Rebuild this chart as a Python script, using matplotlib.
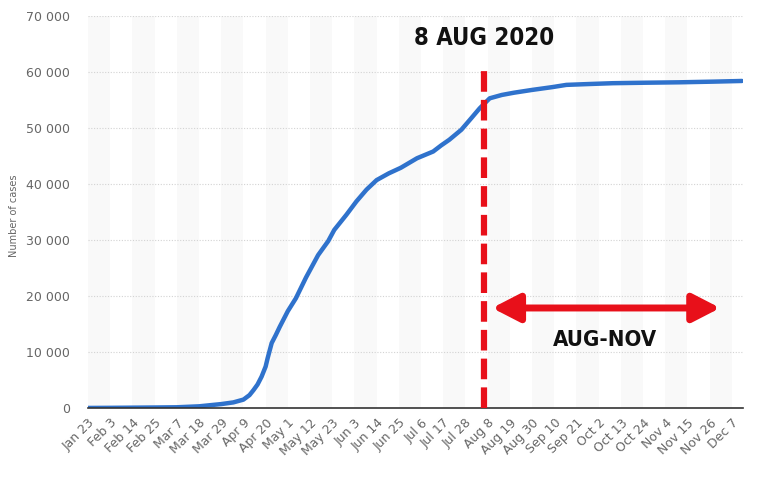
import matplotlib
matplotlib.use("Agg")
import matplotlib.pyplot as plt
from matplotlib import font_manager as fm

# ---- data ----
tick_labels = ["Jan 23", "Feb 3", "Feb 14", "Feb 25", "Mar 7", "Mar 18", "Mar 29",
               "Apr 9", "Apr 20", "May 1", "May 12", "May 23", "Jun 3", "Jun 14",
               "Jun 25", "Jul 6", "Jul 17", "Jul 28", "Aug 8", "Aug 19", "Aug 30",
               "Sep 10", "Sep 21", "Oct 2", "Oct 13", "Oct 24", "Nov 4", "Nov 15",
               "Nov 26", "Dec 7"]
tick_step_days = 11

# days since Jan 23, 2020
days = [0, 11, 22, 33, 44, 55, 66, 72, 77, 80, 82, 84, 86, 88, 89, 91, 93, 95,
        99, 103, 108, 114, 119, 122, 128, 133, 138, 143, 149, 155, 163, 171,
        175, 179, 185, 190, 194, 199, 205, 211, 220, 230, 237, 248, 260, 275,
        293, 310, 324]
cases = [10, 30, 60, 90, 130, 300, 700, 1000, 1500, 2300, 3200, 4200, 5600,
         7400, 8900, 11600, 13000, 14500, 17300, 19600, 23300, 27300, 29800,
         31800, 34500, 36900, 39000, 40700, 41900, 42900, 44600, 45800, 46900,
         47900, 49700, 51800, 53500, 55300, 55900, 56300, 56800, 57300, 57700,
         57850, 58000, 58080, 58160, 58280, 58400]

y_ticks = [0, 10000, 20000, 30000, 40000, 50000, 60000, 70000]
y_tick_labels = ["0", "10 000", "20 000", "30 000", "40 000", "50 000", "60 000", "70 000"]

marker_day = 196.2
marker_label = "8 AUG 2020"
span_label = "AUG-NOV"
span_start, span_end = 200.2, 313.2

# ---- pick a condensed bold font if one exists ----
def pick_bold():
    cands = []
    for f in fm.fontManager.ttflist:
        nm = f.name.lower()
        st = str(f.stretch).lower()
        cond = ("condensed" in st or "narrow" in st or "condensed" in nm
                or "narrow" in nm or "compressed" in nm)
        w = f.weight if isinstance(f.weight, int) else (700 if "bold" in str(f.weight) else 400)
        if cond and w >= 600 and "mono" not in nm and "serif" not in nm.replace("sans", ""):
            cands.append(f)
    if cands:
        return fm.FontProperties(fname=cands[0].fname)
    names = {f.name for f in fm.fontManager.ttflist}
    fam = "Roboto" if "Roboto" in names else "DejaVu Sans"
    return fm.FontProperties(family=fam, weight="bold")

bold_fp = pick_bold()

fig = plt.figure(figsize=(7.72, 4.82), dpi=100)
ax = fig.add_axes([88/772, 1-408/482, (743-88)/772, (408-16)/482])

x_max = 324.5
ax.set_xlim(0, x_max)
ax.set_ylim(0, 70000)

# alternating stripes
tick_pos = [i * tick_step_days for i in range(len(tick_labels))]
for i in range(0, 40, 2):
    a = i * tick_step_days
    b = a + tick_step_days
    if a >= x_max:
        break
    ax.axvspan(a, min(b, x_max), color="#f9f9f9", lw=0, zorder=0)

for v in y_ticks[1:]:
    ax.axhline(v, color="#d3d3d3", lw=0.8, ls=(0, (1, 1.5)), zorder=1)

ax.plot(days, cases, color="#2f72cc", lw=3.2, solid_capstyle="round",
        solid_joinstyle="round", zorder=3)

ax.set_xticks(tick_pos)
ax.set_xticklabels(tick_labels, rotation=45, ha="right", rotation_mode="anchor",
                   fontsize=9, color="#666666")
ax.set_yticks(y_ticks)
ax.set_yticklabels(y_tick_labels, fontsize=9, color="#666666")
ax.tick_params(axis="x", length=0, pad=6)
ax.tick_params(axis="y", length=0, pad=13)
ax.set_ylabel("Number of cases", fontsize=7, color="#666666")
ax.yaxis.set_label_coords(-0.106, 0.49)

for s in ["top", "right", "left"]:
    ax.spines[s].set_visible(False)
ax.spines["bottom"].set_color("#333333")
ax.spines["bottom"].set_linewidth(1.2)
ax.spines["bottom"].set_zorder(4)

# red dashed marker line
ax.plot([marker_day, marker_day], [0, 60900], color="#e8101a", lw=4.5,
        ls=(0, (3.3, 1.3)), zorder=5, clip_on=False)

t1 = ax.text(marker_day, 66000, marker_label, ha="center", va="center",
             fontproperties=bold_fp.copy(), fontsize=23, color="#111111")

# double arrow
ax.annotate("", xy=(span_end, 17860), xytext=(span_start, 17860),
            arrowprops=dict(arrowstyle="<|-|>,head_length=1.65,head_width=0.85",
                            color="#e8101a", lw=5, shrinkA=0, shrinkB=0,
                            mutation_scale=10), zorder=5)
t2 = ax.text(256.2, 12100, span_label, ha="center", va="center",
             fontproperties=bold_fp.copy(), fontsize=23, color="#111111")

# size the annotation texts close to the reference widths (px)
fig.canvas.draw()
r = fig.canvas.get_renderer()
for t, target in [(t1, 140.0), (t2, 104.0)]:
    w = t.get_window_extent(r).width
    t.set_fontsize(23 * target / w)

fig.savefig("out.png", dpi=100)
